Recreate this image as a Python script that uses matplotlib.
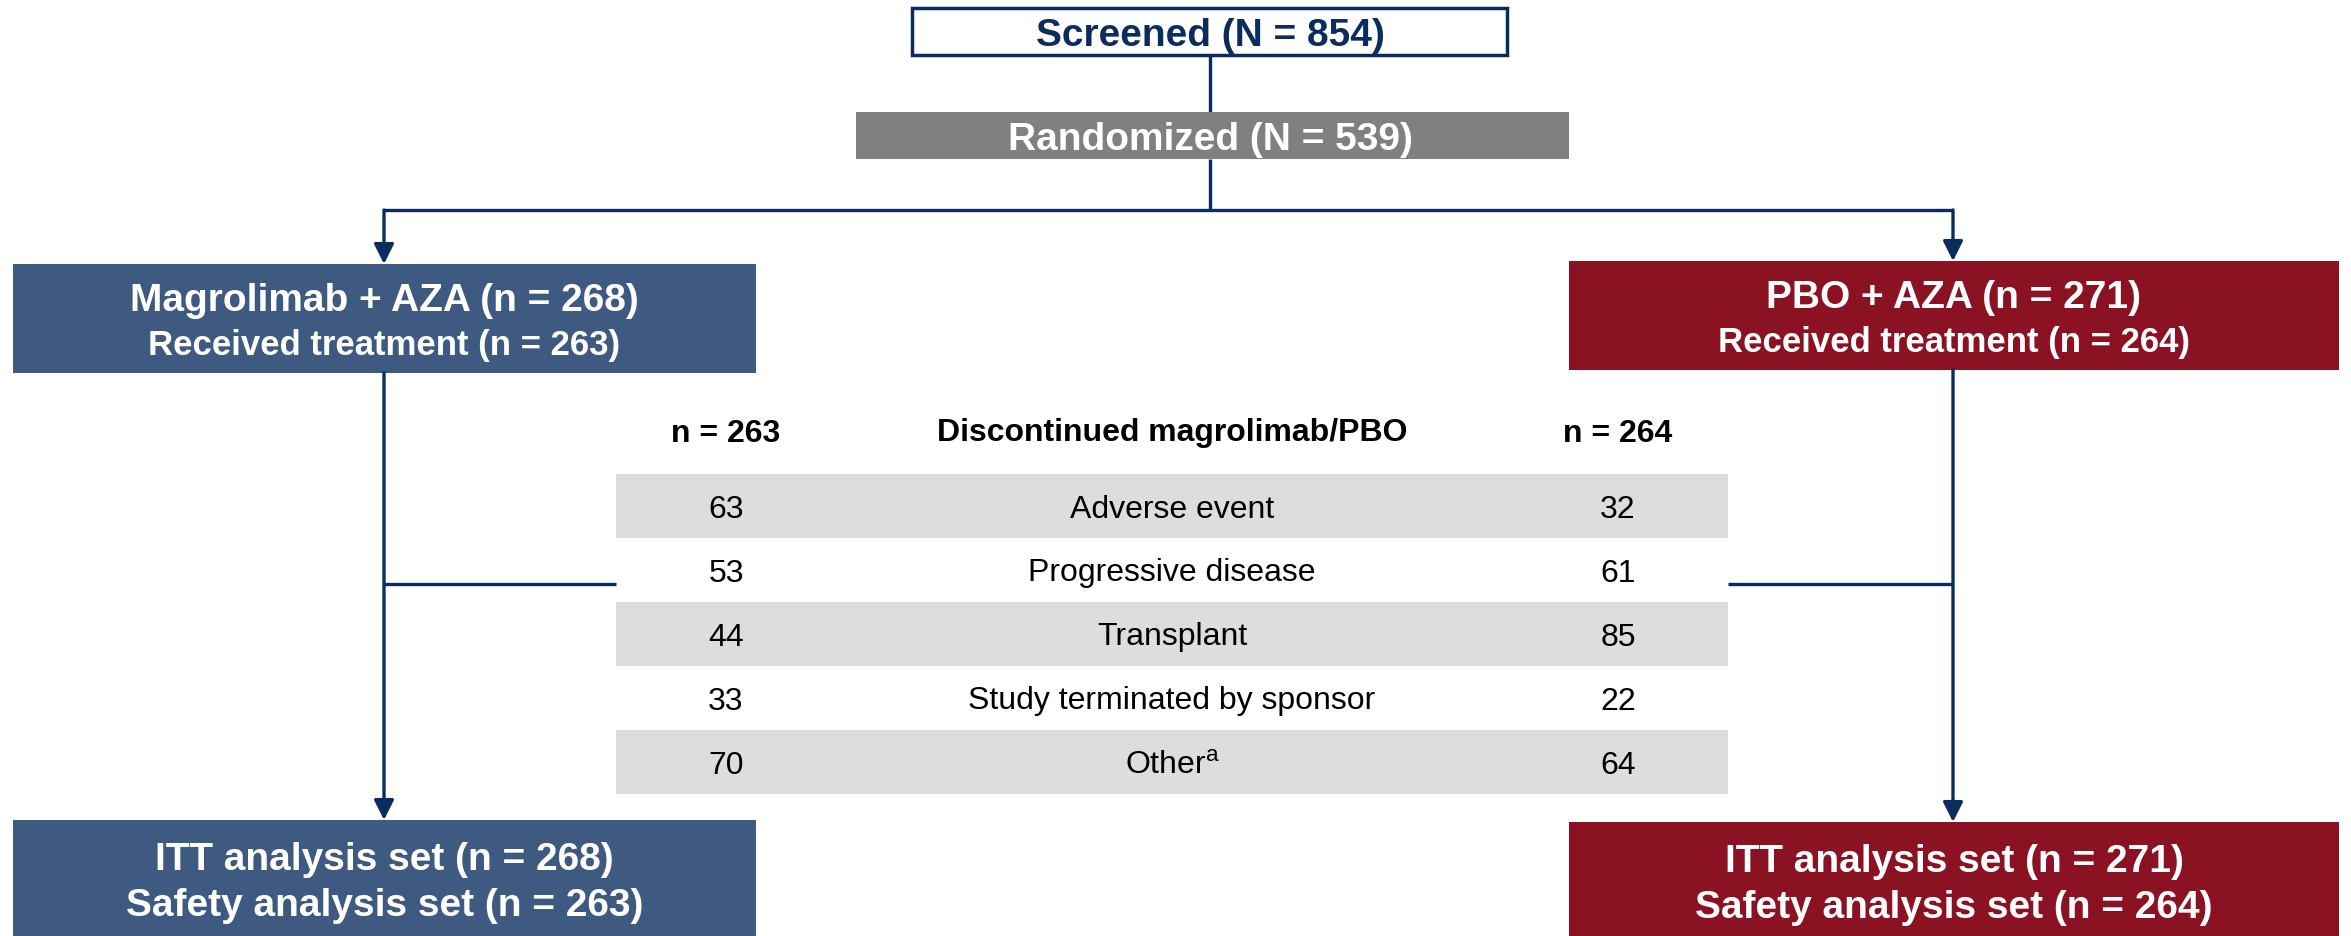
import matplotlib
matplotlib.use("Agg")
import matplotlib.pyplot as plt
from matplotlib.patches import Rectangle, FancyArrowPatch

plt.rcParams['font.family'] = ['Liberation Sans', 'DejaVu Sans']
plt.rcParams['mathtext.fontset'] = 'custom'
plt.rcParams['mathtext.rm'] = 'Liberation Sans'

# ---- data ----
screened_label = "Screened (N = 854)"
randomized_label = "Randomized (N = 539)"
arm_titles = ["Magrolimab + AZA (n = 268)", "PBO + AZA (n = 271)"]
arm_treated = ["Received treatment (n = 263)", "Received treatment (n = 264)"]
itt_labels = ["ITT analysis set (n = 268)", "ITT analysis set (n = 271)"]
safety_labels = ["Safety analysis set (n = 263)", "Safety analysis set (n = 264)"]
table_header = ["n = 263", "Discontinued magrolimab/PBO", "n = 264"]
reasons = ["Adverse event", "Progressive disease", "Transplant",
           "Study terminated by sponsor", "Other$^{\\mathrm{a}}$"]
magro_counts = [63, 53, 44, 33, 70]
pbo_counts = [32, 61, 85, 22, 64]

NAVY = "#0a2c5f"
BLUE = "#3e5a80"
RED = "#8a1223"
GRAY = "#808080"
SHADE = "#dddedc"

W, H = 2351, 936
fig = plt.figure(figsize=(W / 100, H / 100), dpi=100)
ax = fig.add_axes([0, 0, 1, 1])
ax.set_xlim(0, W)
ax.set_ylim(H, 0)
ax.axis("off")


def box(x0, y0, x1, y1, fc, ec=None, lw=0):
    ax.add_patch(Rectangle((x0, y0), x1 - x0, y1 - y0, facecolor=fc,
                           edgecolor=ec if ec else fc, linewidth=lw, zorder=2))


def line(xs, ys):
    ax.plot(xs, ys, color=NAVY, lw=2.4, solid_capstyle="butt", zorder=1)


def arrow(x, y0, y1):
    ax.add_patch(FancyArrowPatch((x, y0), (x, y1), arrowstyle="-|>",
                                 mutation_scale=30, color=NAVY, lw=2.4,
                                 shrinkA=0, shrinkB=0, zorder=3))


def label(x, y, s, size, color, bold=True):
    ax.text(x, y, s, ha="center", va="center_baseline", fontsize=size,
            fontweight="bold" if bold else "normal", color=color, zorder=4)


# top boxes
cx = 1210
box(912, 8, 1507, 55, "white", NAVY, 2.5)
label(cx, 32, screened_label, 28, NAVY)
box(856, 112, 1569, 159, GRAY)
label(cx, 136, randomized_label, 28, "white")

line([cx, cx], [55, 112])
line([cx, cx], [159, 210])
arm_x = [384, 1953]
line([arm_x[0], arm_x[1]], [210, 210])

# arm boxes
arm_boxes = [(13, 264, 756, 373), (1569, 261, 2339, 370)]
itt_boxes = [(13, 820, 756, 936), (1569, 822, 2339, 936)]
colors = [BLUE, RED]
for i in range(2):
    x0, y0, x1, y1 = arm_boxes[i]
    arrow(arm_x[i], 210, y0)
    box(x0, y0, x1, y1, colors[i])
    label((x0 + x1) / 2, y0 + 33, arm_titles[i], 28, "white")
    label((x0 + x1) / 2, y0 + 78, arm_treated[i], 25, "white")

    ix0, iy0, ix1, iy1 = itt_boxes[i]
    arrow(arm_x[i], y1, iy0)
    box(ix0, iy0, ix1, iy1, colors[i])
    label((ix0 + ix1) / 2, iy0 + 36, itt_labels[i], 28, "white")
    label((ix0 + ix1) / 2, iy0 + 82, safety_labels[i], 28, "white")

# table
tx0, tx1 = 616, 1728
col_x = [726, 1172, 1618]
row_top, row_h = 474, 64
line([arm_x[0], tx0], [584, 584])
line([tx1, arm_x[1]], [584, 584])

for j, t in enumerate(table_header):
    label(col_x[j], 430, t, 23, "black")

for k, reason in enumerate(reasons):
    y0 = row_top + k * row_h
    if k % 2 == 0:
        box(tx0, y0, tx1, y0 + row_h, SHADE)
    yc = y0 + row_h / 2
    label(col_x[0], yc, str(magro_counts[k]), 23, "black", bold=False)
    label(col_x[1], yc, reason, 23, "black", bold=False)
    label(col_x[2], yc, str(pbo_counts[k]), 23, "black", bold=False)

fig.savefig("out.png", dpi=100)
